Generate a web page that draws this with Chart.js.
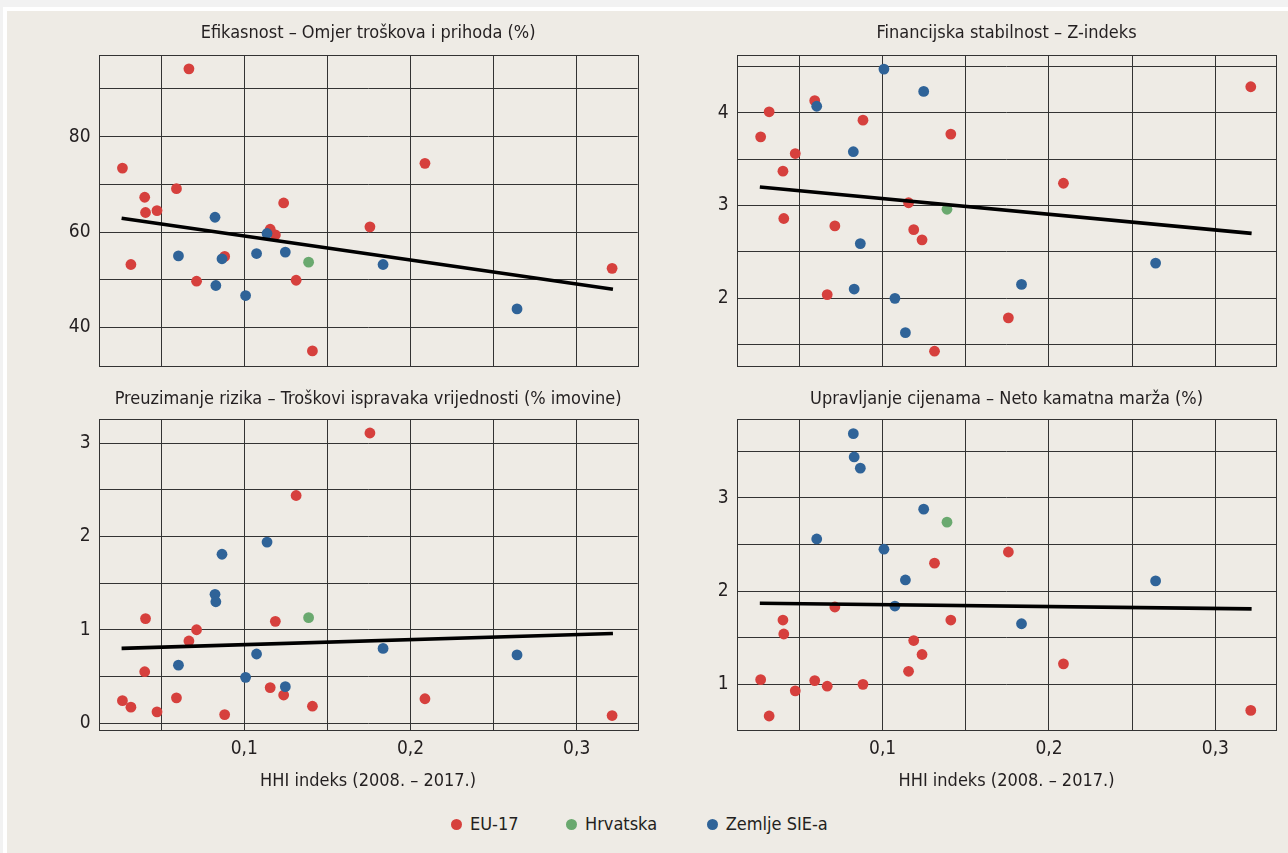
<!DOCTYPE html>
<html><head><meta charset="utf-8">
<script src="https://cdn.jsdelivr.net/npm/chart.js@4.4.1/dist/chart.umd.min.js"></script>
<style>
html,body{margin:0;padding:0;}
body{width:1288px;height:853px;background:#f2f2f2;position:relative;overflow:hidden;}
#white{position:absolute;left:3px;top:7px;right:0;bottom:0;background:#ffffff;}
#panel{position:absolute;left:7px;top:11px;right:0;bottom:0;background:#eeebe5;}
canvas{position:absolute;}
.leg{position:absolute;top:811px;height:26px;line-height:26px;color:#231f20;white-space:nowrap;}
.dot{position:absolute;width:11px;height:11px;border-radius:50%;top:819px;}
</style></head><body>
<div id="white"></div><div id="panel"></div>
<canvas id="c1" width="650" height="385" style="left:0px;top:11px"></canvas>
<canvas id="c2" width="638" height="385" style="left:650px;top:11px"></canvas>
<canvas id="c3" width="650" height="420" style="left:0px;top:380px"></canvas>
<canvas id="c4" width="638" height="420" style="left:650px;top:380px"></canvas>
<div id="legend"></div>
<script>
// ---------------- DATA ----------------
const seriesNames = ['EU-17', 'Hrvatska', 'Zemlje SIE-a'];
const chartTitles = [
  'Efikasnost – Omjer troškova i prihoda (%)',
  'Financijska stabilnost – Z-indeks',
  'Preuzimanje rizika – Troškovi ispravaka vrijednosti (% imovine)',
  'Upravljanje cijenama – Neto kamatna marža (%)'
];
const xAxisTitle = 'HHI indeks (2008. – 2017.)';

// HHI index (x) per country group
const hhiEU  = [0.0267, 0.0318, 0.0401, 0.0406, 0.0475, 0.0592, 0.0667, 0.0713, 0.0882, 0.1156, 0.1187, 0.1237, 0.1312, 0.1410, 0.1756, 0.2087, 0.3213];
const hhiSIE = [0.0604, 0.0824, 0.0829, 0.0866, 0.1008, 0.1074, 0.1137, 0.1247, 0.1835, 0.2641];
const hhiHR  = [0.1387];

// Efikasnost – cost/income (%)
const effEU  = [73.4, 53.2, 67.3, 64.1, 64.5, 69.1, 94.2, 49.7, 54.9, 60.6, 59.4, 66.1, 49.9, 35.1, 61.1, 74.4, 52.4];
const effSIE = [55.0, 63.1, 48.8, 54.4, 46.7, 55.5, 59.7, 55.8, 53.2, 43.9];
const effHR  = [53.7];
const effTrend = [62.9, 48.0];

// Financijska stabilnost – Z-index
const zEU  = [3.74, 4.01, 3.37, 2.86, 3.56, 4.13, 2.04, 2.78, 3.92, 3.03, 2.74, 2.63, 1.43, 3.77, 1.79, 3.24, 4.28];
const zSIE = [4.07, 3.58, 2.10, 2.59, 4.47, 2.00, 1.63, 4.23, 2.15, 2.38];
const zHR  = [2.96];
const zTrend = [3.20, 2.70];

// Preuzimanje rizika – provisions (% assets)
const riskEU  = [0.24, 0.17, 0.55, 1.12, 0.12, 0.27, 0.88, 1.00, 0.09, 0.38, 1.09, 0.30, 2.44, 0.18, 3.11, 0.26, 0.08];
const riskSIE = [0.62, 1.38, 1.30, 1.81, 0.49, 0.74, 1.94, 0.39, 0.80, 0.73];
const riskHR  = [1.13];
const riskTrend = [0.80, 0.96];

// Upravljanje cijenama – net interest margin (%)
const nimEU  = [1.05, 0.66, 1.69, 1.54, 0.93, 1.04, 0.98, 1.83, 1.00, 1.14, 1.47, 1.32, 2.30, 1.69, 2.42, 1.22, 0.72];
const nimSIE = [2.56, 3.69, 3.44, 3.32, 2.45, 1.84, 2.12, 2.88, 1.65, 2.11];
const nimHR  = [2.74];
const nimTrend = [1.87, 1.81];

const trendX = [0.0262, 0.3218];

// axis ranges / ticks
const xRange = [0.0123, 0.3367];
const xStep = 0.05;
const xLabelTicks = [0.1, 0.2, 0.3];
const yRanges = [[32.0, 97.1], [1.274, 4.622], [-0.075, 3.257], [0.51, 3.844]];
const ySteps = [10, 0.5, 0.5, 0.5];
const yLabelTicks = [[40, 60, 80], [2, 3, 4], [0, 1, 2, 3], [1, 2, 3]];

// ---------------- STYLE ----------------
const COL = {eu: '#d6403d', hr: '#6aa96f', sie: '#2f6398'};
function hasFont(name) {
  const c = document.createElement('canvas').getContext('2d');
  const s = 'abcdefghijklmnopqrstuvwxyz0123456789';
  c.font = '40px monospace'; const a = c.measureText(s).width;
  c.font = "40px '" + name + "', monospace"; const b = c.measureText(s).width;
  return Math.abs(a - b) > 0.5;
}
let FAM, FS;
if (hasFont('Liberation Sans Narrow')) { FAM = "'Liberation Sans Narrow', 'Liberation Sans', sans-serif"; FS = {title: 21, tick: 22, axis: 21, legend: 21}; }
else if (hasFont('DejaVu Sans Condensed')) { FAM = "'DejaVu Sans Condensed', sans-serif"; FS = {title: 18, tick: 19, axis: 18, legend: 18}; }
else { FAM = "'Liberation Sans', Arial, sans-serif"; FS = {title: 18, tick: 19, axis: 18, legend: 18}; }
Chart.defaults.font.family = FAM;
Chart.defaults.color = '#231f20';

const framePlugin = {
  id: 'frame',
  beforeDatasetsDraw(chart) {
    const {ctx, chartArea: a} = chart;
    ctx.save();
    ctx.strokeStyle = '#333333';
    ctx.lineWidth = 1;
    ctx.strokeRect(Math.round(a.left) + 0.5, Math.round(a.top) + 0.5, Math.round(a.right) - Math.round(a.left), Math.round(a.bottom) - Math.round(a.top));
    ctx.restore();
  }
};

function pts(xs, ys) { return xs.map((x, i) => ({x: x, y: ys[i]})); }
function near(v, list) { return list.some(t => Math.abs(t - v) < 1e-6); }

function makeChart(id, idx, box, plot, titleCenterY, eu, hr, sie, trend, bottom) {
  const pl = plot.x1 - box.L, pt = plot.y1 - box.T;
  const pr = box.W - (plot.x2 - box.L), pb = box.H - (plot.y2 - box.T);
  const lh = FS.title * 1.2;
  const tt = (titleCenterY - box.T) - lh / 2;
  const tb = pt - tt - lh;
  const axisLh = FS.axis * 1.2;
  const xTitleCenter = bottom ? 781 : 0;
  const xTitlePad = bottom ? (box.H - (xTitleCenter - box.T) - axisLh / 2) : 0;
  const tickPad = 749 - 730 - FS.tick * 0.6;
  const point = (c) => ({pointRadius: 5.4, pointHoverRadius: 5.4, pointBorderWidth: 0, backgroundColor: c, borderColor: c});
  new Chart(document.getElementById(id), {
    type: 'scatter',
    data: {
      datasets: [
        {label: 'trend', data: pts(trendX, trend), showLine: true, borderColor: '#000', borderWidth: 3.6, pointRadius: 0, pointHoverRadius: 0, order: 0},
        Object.assign({label: seriesNames[2], data: pts(hhiSIE, sie), order: 1}, point(COL.sie)),
        Object.assign({label: seriesNames[0], data: pts(hhiEU, eu), order: 2}, point(COL.eu)),
        Object.assign({label: seriesNames[1], data: pts(hhiHR, hr), order: 3}, point(COL.hr))
      ]
    },
    options: {
      responsive: false, animation: false,
      layout: {padding: {left: 0, right: pr, top: 0, bottom: 0}},
      plugins: {
        legend: {display: false}, tooltip: {enabled: false},
        title: {display: true, text: chartTitles[idx], fullSize: false, color: '#231f20',
                font: {size: FS.title, weight: 'normal', lineHeight: 1.2}, padding: {top: tt, bottom: tb}}
      },
      scales: {
        x: {
          type: 'linear', min: xRange[0], max: xRange[1],
          afterFit: (s) => { s.height = pb; },
          border: {display: false},
          grid: {color: '#333333', lineWidth: 1, drawTicks: false},
          ticks: {display: bottom, stepSize: xStep, includeBounds: false, autoSkip: false, maxRotation: 0, padding: tickPad,
                  font: {size: FS.tick}, color: '#231f20',
                  callback: (v) => near(v, xLabelTicks) ? v.toFixed(1).replace('.', ',') : ''},
          title: {display: bottom, text: xAxisTitle, font: {size: FS.axis, lineHeight: 1.2}, color: '#231f20', padding: {top: 0, bottom: xTitlePad}}
        },
        y: {
          type: 'linear', min: yRanges[idx][0], max: yRanges[idx][1],
          afterFit: (s) => { s.width = pl; },
          border: {display: false},
          grid: {color: '#333333', lineWidth: 1, drawTicks: false},
          ticks: {stepSize: ySteps[idx], includeBounds: false, autoSkip: false, padding: 8,
                  font: {size: FS.tick}, color: '#231f20',
                  callback: (v) => near(v, yLabelTicks[idx]) ? String(Math.round(v)) : ''}
        }
      }
    },
    plugins: [framePlugin]
  });
}

makeChart('c1', 0, {L: 0, T: 11, W: 650, H: 385}, {x1: 98.5, y1: 55, x2: 637.7, y2: 365.7}, 33.3, effEU, effHR, effSIE, effTrend, false);
makeChart('c2', 1, {L: 650, T: 11, W: 638, H: 385}, {x1: 736.7, y1: 55, x2: 1276.4, y2: 365.7}, 33.3, zEU, zHR, zSIE, zTrend, false);
makeChart('c3', 2, {L: 0, T: 380, W: 650, H: 420}, {x1: 98.5, y1: 419.3, x2: 637.7, y2: 730}, 399, riskEU, riskHR, riskSIE, riskTrend, true);
makeChart('c4', 3, {L: 650, T: 380, W: 638, H: 420}, {x1: 736.7, y1: 419.3, x2: 1276.4, y2: 730}, 399, nimEU, nimHR, nimSIE, nimTrend, true);

// legend (HTML)
const legItems = [
  {name: seriesNames[0], col: COL.eu, dot: 456.7, text: 470},
  {name: seriesNames[1], col: COL.hr, dot: 571.7, text: 585},
  {name: seriesNames[2], col: COL.sie, dot: 712.3, text: 725.7}
];
const lg = document.getElementById('legend');
legItems.forEach(it => {
  const d = document.createElement('div'); d.className = 'dot';
  d.style.left = (it.dot - 5.5) + 'px'; d.style.background = it.col; lg.appendChild(d);
  const t = document.createElement('div'); t.className = 'leg';
  t.style.left = it.text + 'px'; t.style.fontFamily = FAM; t.style.fontSize = FS.legend + 'px';
  t.textContent = it.name; lg.appendChild(t);
});
</script>
</body></html>
